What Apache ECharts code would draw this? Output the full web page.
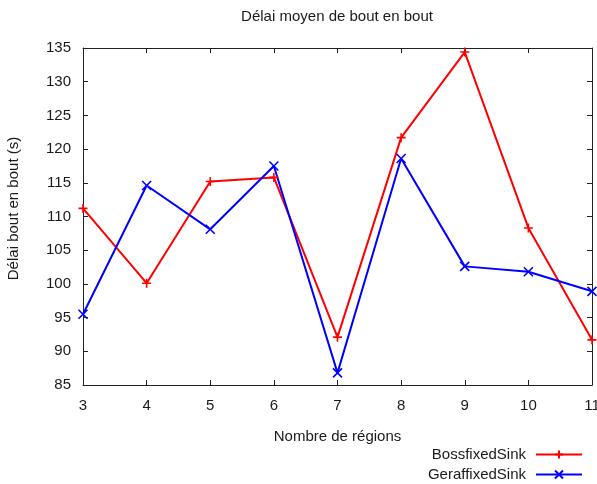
<!DOCTYPE html>
<html>
<head>
<meta charset="utf-8">
<script src="https://cdn.jsdelivr.net/npm/echarts@6/dist/echarts.min.js"></script>
<style>
  html, body { margin: 0; padding: 0; background: #fff; }
  #chart { width: 597px; height: 484px; }
</style>
</head>
<body>
<div id="chart"></div>
<script>
// Average end-to-end delay per number of regions
const regions = [3, 4, 5, 6, 7, 8, 9, 10, 11];
const bossfixedSink = [111.2, 100.1, 115.2, 115.8, 92.1, 121.7, 134.4, 108.3, 91.7];
const geraffixedSink = [95.5, 114.6, 108.1, 117.5, 86.8, 118.6, 102.6, 101.8, 98.9];
const yTicks = [85, 135, 5];
const seriesNames = ['BossfixedSink', 'GeraffixedSink'];

const FONT = '"Liberation Sans", Arial, sans-serif';
const FS = 15;
const INK = '#1a1a1a';
const plusIcon = 'path://M5,0L5,10M0,5L10,5';
const crossIcon = 'path://M0,0L10,10M10,0L0,10';

const chart = echarts.init(document.getElementById('chart'), null, { renderer: 'canvas' });

const axisLine = { show: true, lineStyle: { color: '#222', width: 1 } };
const tick = { show: true, inside: true, length: 5, lineStyle: { color: '#222', width: 1 } };

const xPairs = (arr) => arr.map((v, i) => [regions[i], v]);

// one legend block per series, stacked in the lower right corner
const legendFor = (name, top) => ({
  orient: 'vertical',
  right: 14,
  top: top,
  padding: 0,
  align: 'right',
  itemWidth: 46,
  itemHeight: 10,
  data: [name],
  formatter: (n) => '{t|' + n + '}',
  textStyle: {
    rich: { t: { fontFamily: FONT, fontSize: FS, color: INK, padding: [0, 5, 0, 0] } }
  }
});

chart.setOption({
  animation: false,
  backgroundColor: '#fff',
  textStyle: { fontFamily: FONT },
  title: {
    text: 'Délai moyen de bout en bout',
    left: 337,
    textAlign: 'center',
    top: 9,
    padding: 0,
    textStyle: { fontFamily: FONT, fontSize: FS, fontWeight: 'normal', color: INK }
  },
  grid: { left: 83, right: 5, top: 48, bottom: 99, outerBoundsMode: 'none', containLabel: false },
  legend: [legendFor(seriesNames[0], 447), legendFor(seriesNames[1], 467)],
  xAxis: [{
    type: 'value',
    min: regions[0],
    max: regions[regions.length - 1],
    interval: 1,
    name: 'Nombre de régions',
    nameLocation: 'middle',
    nameGap: 44,
    nameTextStyle: { fontFamily: FONT, fontSize: FS, color: INK },
    axisLine: axisLine,
    axisTick: tick,
    axisLabel: { fontFamily: FONT, fontSize: FS, color: INK, margin: 13 },
    splitLine: { show: false }
  }, {
    type: 'value',
    position: 'top',
    min: regions[0],
    max: regions[regions.length - 1],
    interval: 1,
    axisLine: axisLine,
    axisTick: tick,
    axisLabel: { show: false },
    splitLine: { show: false }
  }],
  yAxis: [{
    type: 'value',
    min: yTicks[0],
    max: yTicks[1],
    interval: yTicks[2],
    name: 'Délai bout en bout (s)',
    nameLocation: 'middle',
    nameGap: 62,
    nameTextStyle: { fontFamily: FONT, fontSize: FS, color: INK, padding: [0, 0, 0, 16] },
    axisLine: axisLine,
    axisTick: tick,
    axisLabel: { fontFamily: FONT, fontSize: FS, color: INK, margin: 12 },
    splitLine: { show: false }
  }, {
    type: 'value',
    position: 'right',
    min: yTicks[0],
    max: yTicks[1],
    interval: yTicks[2],
    axisLine: axisLine,
    axisTick: tick,
    axisLabel: { show: false },
    splitLine: { show: false }
  }],
  series: [{
    name: seriesNames[0],
    type: 'line',
    data: xPairs(bossfixedSink),
    symbol: plusIcon,
    symbolSize: 9,
    lineStyle: { color: '#ff0000', width: 2 },
    itemStyle: { color: '#ff0000', borderColor: '#ff0000', borderWidth: 1.6 }
  }, {
    name: seriesNames[1],
    type: 'line',
    data: xPairs(geraffixedSink),
    symbol: crossIcon,
    symbolSize: 9,
    lineStyle: { color: '#0000ff', width: 2 },
    itemStyle: { color: '#0000ff', borderColor: '#0000ff', borderWidth: 1.6 }
  }]
});
</script>
</body>
</html>
